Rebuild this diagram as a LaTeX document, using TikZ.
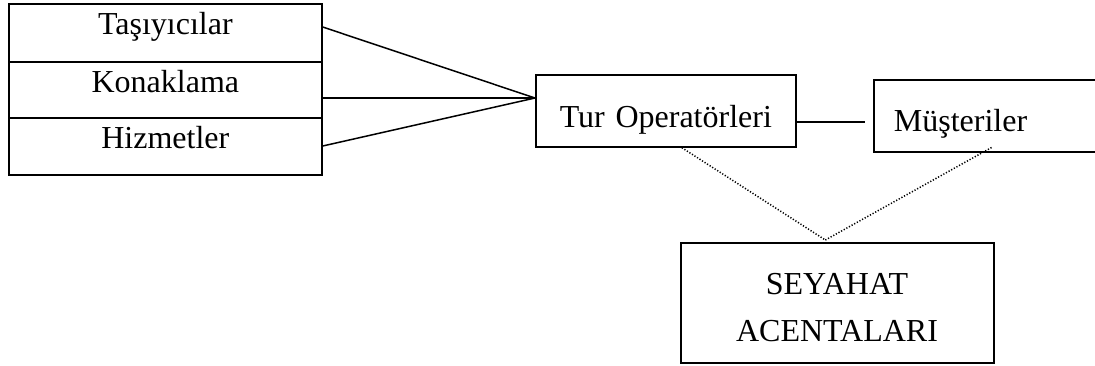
\documentclass[tikz,border=0pt]{standalone}
\usepackage{fontspec}
\setmainfont{Liberation Serif}
\begin{document}
\begin{tikzpicture}[x=1pt,y=-1pt,
  every node/.style={font=\fontsize{32}{47}\selectfont, inner sep=0pt},
  cell/.style={draw, line width=1.7pt, anchor=north west, minimum width=313pt, align=center, text width=313pt},
  frame/.style={draw, line width=1.7pt, anchor=north west},
  link/.style={line width=1.5pt},
  dotlink/.style={line width=1.5pt, dash pattern=on 1.2pt off 1.8pt}]
  \useasboundingbox (0,0) rectangle (1095,365);
  \clip (0,0) rectangle (1095,365);

  % stacked supplier cells
  \node[cell, text height=31pt, text depth=27pt] (tas) at (8,3) {Taşıyıcılar};
  \node[cell, text height=31pt, text depth=25pt] (kon) at (8,61) {Konaklama};
  \node[cell, text height=31pt, text depth=26pt] (hiz) at (8,117) {Hizmetler};

  % tour operators and customers
  \node[frame, minimum width=260pt, text width=260pt, align=center, text height=53pt, text depth=19pt] (tur) at (535,74) {Tur Operatörleri};
  \node[frame, inner xsep=20pt, text width=200pt, align=left, text height=52pt, text depth=20pt] (mus) at (873,79) {Müşteriler};

  % travel agencies
  \node[frame, minimum width=313pt, minimum height=120pt] (sa) at (680,242) {};
  \node[align=center] (satext) at (837,308) {SEYAHAT\\ACENTALARI};

  % supply lines converging on the tour operators
  \draw[link] ([yshift=-24pt]tas.north east) -- ([yshift=-24pt]tur.north west);
  \draw[link] ([yshift=-37pt]kon.north east) -- ([yshift=-24pt]tur.north west);
  \draw[link] ([yshift=-29pt]hiz.north east) -- ([yshift=-24pt]tur.north west);

  % operators to customers
  \draw[link] ([yshift=-48pt]tur.north east) -- ([xshift=-8pt,yshift=-43pt]mus.north west);

  % dotted links to the agencies
  \draw[dotlink] ([xshift=16pt]tur.south) -- ([xshift=-12pt,yshift=2pt]sa.north);
  \draw[dotlink] ([xshift=-12pt,yshift=2pt]sa.north) -- ([xshift=120pt,yshift=6pt]mus.south west);
\end{tikzpicture}
\end{document}
